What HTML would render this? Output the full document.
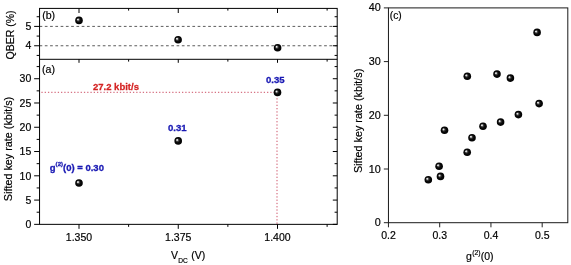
<!DOCTYPE html><html><head><meta charset="utf-8"><style>html,body{margin:0;padding:0;background:#fff;width:571px;height:265px;overflow:hidden}svg{display:block}text{font-family:'Liberation Sans',Arial,sans-serif;stroke:#000;stroke-width:0.18px}</style></head><body>
<svg width="571" height="265" viewBox="0 0 571 265">
<defs><radialGradient id="ball" cx="0.5" cy="0.5" r="0.5" fx="0.33" fy="0.35"><stop offset="0" stop-color="#ffffff"/><stop offset="0.16" stop-color="#d0d0d0"/><stop offset="0.34" stop-color="#404040"/><stop offset="0.58" stop-color="#0a0a0a"/><stop offset="1" stop-color="#000"/></radialGradient></defs>
<rect width="571" height="265" fill="#fff"/>
<line x1="39.55" y1="26.40" x2="337.20" y2="26.40" stroke="#5c5c5c" stroke-width="1.00" stroke-dasharray="2.7 2.57"/>
<line x1="39.55" y1="45.75" x2="337.20" y2="45.75" stroke="#5c5c5c" stroke-width="1.00" stroke-dasharray="2.7 2.57"/>
<line x1="39.55" y1="92.31" x2="277.00" y2="92.31" stroke="#cc5066" stroke-width="1.00" stroke-dasharray="1.3 1.97" stroke-dashoffset="1.42"/>
<line x1="277.00" y1="92.31" x2="277.00" y2="224.35" stroke="#cc5066" stroke-width="1.00" stroke-dasharray="1.3 1.97" stroke-dashoffset="0.65"/>
<rect x="39.55" y="8.40" width="297.65" height="215.95" fill="none" stroke="#000" stroke-width="1.00"/>
<line x1="39.55" y1="59.30" x2="337.20" y2="59.30" stroke="#000" stroke-width="1.00" />
<line x1="79.00" y1="224.35" x2="79.00" y2="228.85" stroke="#000" stroke-width="1.00" />
<line x1="79.00" y1="59.30" x2="79.00" y2="62.80" stroke="#000" stroke-width="1.00" />
<line x1="79.00" y1="8.40" x2="79.00" y2="13.00" stroke="#000" stroke-width="1.00" />
<line x1="178.25" y1="224.35" x2="178.25" y2="228.85" stroke="#000" stroke-width="1.00" />
<line x1="178.25" y1="59.30" x2="178.25" y2="62.80" stroke="#000" stroke-width="1.00" />
<line x1="178.25" y1="8.40" x2="178.25" y2="13.00" stroke="#000" stroke-width="1.00" />
<line x1="277.50" y1="224.35" x2="277.50" y2="228.85" stroke="#000" stroke-width="1.00" />
<line x1="277.50" y1="59.30" x2="277.50" y2="62.80" stroke="#000" stroke-width="1.00" />
<line x1="277.50" y1="8.40" x2="277.50" y2="13.00" stroke="#000" stroke-width="1.00" />
<line x1="128.62" y1="224.35" x2="128.62" y2="226.85" stroke="#000" stroke-width="1.00" />
<line x1="128.62" y1="59.30" x2="128.62" y2="61.60" stroke="#000" stroke-width="1.00" />
<line x1="128.62" y1="8.40" x2="128.62" y2="10.60" stroke="#000" stroke-width="1.00" />
<line x1="227.87" y1="224.35" x2="227.87" y2="226.85" stroke="#000" stroke-width="1.00" />
<line x1="227.87" y1="59.30" x2="227.87" y2="61.60" stroke="#000" stroke-width="1.00" />
<line x1="227.87" y1="8.40" x2="227.87" y2="10.60" stroke="#000" stroke-width="1.00" />
<line x1="327.12" y1="224.35" x2="327.12" y2="226.85" stroke="#000" stroke-width="1.00" />
<line x1="327.12" y1="59.30" x2="327.12" y2="61.60" stroke="#000" stroke-width="1.00" />
<line x1="327.12" y1="8.40" x2="327.12" y2="10.60" stroke="#000" stroke-width="1.00" />
<line x1="34.15" y1="224.35" x2="39.55" y2="224.35" stroke="#000" stroke-width="1.00" />
<line x1="332.80" y1="224.35" x2="337.20" y2="224.35" stroke="#000" stroke-width="1.00" />
<line x1="34.15" y1="200.08" x2="39.55" y2="200.08" stroke="#000" stroke-width="1.00" />
<line x1="332.80" y1="200.08" x2="337.20" y2="200.08" stroke="#000" stroke-width="1.00" />
<line x1="34.15" y1="175.81" x2="39.55" y2="175.81" stroke="#000" stroke-width="1.00" />
<line x1="332.80" y1="175.81" x2="337.20" y2="175.81" stroke="#000" stroke-width="1.00" />
<line x1="34.15" y1="151.53" x2="39.55" y2="151.53" stroke="#000" stroke-width="1.00" />
<line x1="332.80" y1="151.53" x2="337.20" y2="151.53" stroke="#000" stroke-width="1.00" />
<line x1="34.15" y1="127.26" x2="39.55" y2="127.26" stroke="#000" stroke-width="1.00" />
<line x1="332.80" y1="127.26" x2="337.20" y2="127.26" stroke="#000" stroke-width="1.00" />
<line x1="34.15" y1="102.99" x2="39.55" y2="102.99" stroke="#000" stroke-width="1.00" />
<line x1="332.80" y1="102.99" x2="337.20" y2="102.99" stroke="#000" stroke-width="1.00" />
<line x1="34.15" y1="78.72" x2="39.55" y2="78.72" stroke="#000" stroke-width="1.00" />
<line x1="332.80" y1="78.72" x2="337.20" y2="78.72" stroke="#000" stroke-width="1.00" />
<line x1="36.65" y1="212.21" x2="39.55" y2="212.21" stroke="#000" stroke-width="1.00" />
<line x1="334.60" y1="212.21" x2="337.20" y2="212.21" stroke="#000" stroke-width="1.00" />
<line x1="36.65" y1="187.94" x2="39.55" y2="187.94" stroke="#000" stroke-width="1.00" />
<line x1="334.60" y1="187.94" x2="337.20" y2="187.94" stroke="#000" stroke-width="1.00" />
<line x1="36.65" y1="163.67" x2="39.55" y2="163.67" stroke="#000" stroke-width="1.00" />
<line x1="334.60" y1="163.67" x2="337.20" y2="163.67" stroke="#000" stroke-width="1.00" />
<line x1="36.65" y1="139.40" x2="39.55" y2="139.40" stroke="#000" stroke-width="1.00" />
<line x1="334.60" y1="139.40" x2="337.20" y2="139.40" stroke="#000" stroke-width="1.00" />
<line x1="36.65" y1="115.13" x2="39.55" y2="115.13" stroke="#000" stroke-width="1.00" />
<line x1="334.60" y1="115.13" x2="337.20" y2="115.13" stroke="#000" stroke-width="1.00" />
<line x1="36.65" y1="90.85" x2="39.55" y2="90.85" stroke="#000" stroke-width="1.00" />
<line x1="334.60" y1="90.85" x2="337.20" y2="90.85" stroke="#000" stroke-width="1.00" />
<line x1="36.65" y1="66.58" x2="39.55" y2="66.58" stroke="#000" stroke-width="1.00" />
<line x1="334.60" y1="66.58" x2="337.20" y2="66.58" stroke="#000" stroke-width="1.00" />
<line x1="34.15" y1="26.40" x2="39.55" y2="26.40" stroke="#000" stroke-width="1.00" />
<line x1="332.80" y1="26.40" x2="337.20" y2="26.40" stroke="#000" stroke-width="1.00" />
<line x1="34.15" y1="45.75" x2="39.55" y2="45.75" stroke="#000" stroke-width="1.00" />
<line x1="332.80" y1="45.75" x2="337.20" y2="45.75" stroke="#000" stroke-width="1.00" />
<line x1="36.65" y1="16.72" x2="39.55" y2="16.72" stroke="#000" stroke-width="1.00" />
<line x1="334.60" y1="16.72" x2="337.20" y2="16.72" stroke="#000" stroke-width="1.00" />
<line x1="36.65" y1="36.08" x2="39.55" y2="36.08" stroke="#000" stroke-width="1.00" />
<line x1="334.60" y1="36.08" x2="337.20" y2="36.08" stroke="#000" stroke-width="1.00" />
<line x1="36.65" y1="55.42" x2="39.55" y2="55.42" stroke="#000" stroke-width="1.00" />
<line x1="334.60" y1="55.42" x2="337.20" y2="55.42" stroke="#000" stroke-width="1.00" />
<text x="31.30" y="30.10" font-size="10.50" text-anchor="end" >5</text>
<text x="31.30" y="49.45" font-size="10.50" text-anchor="end" >4</text>
<text x="31.30" y="228.05" font-size="10.50" text-anchor="end" >0</text>
<text x="31.30" y="203.78" font-size="10.50" text-anchor="end" >5</text>
<text x="31.30" y="179.51" font-size="10.50" text-anchor="end" >10</text>
<text x="31.30" y="155.23" font-size="10.50" text-anchor="end" >15</text>
<text x="31.30" y="130.96" font-size="10.50" text-anchor="end" >20</text>
<text x="31.30" y="106.69" font-size="10.50" text-anchor="end" >25</text>
<text x="31.30" y="82.42" font-size="10.50" text-anchor="end" >30</text>
<text x="79.00" y="241.00" font-size="10.50" text-anchor="middle" >1.350</text>
<text x="178.25" y="241.00" font-size="10.50" text-anchor="middle" >1.375</text>
<text x="277.50" y="241.00" font-size="10.50" text-anchor="middle" >1.400</text>
<text x="171.0" y="258.9" font-size="10.50">V<tspan font-size="6.6" dx="0.3" dy="4.5">DC</tspan><tspan dx="0.5" dy="-4.5"> (V)</tspan></text>
<text transform="translate(13.5,34.9) rotate(-90)" font-size="10.50" text-anchor="middle">QBER (%)</text>
<text transform="translate(12.4,149.0) rotate(-90)" font-size="10.8" text-anchor="middle">Sifted key rate (kbit/s)</text>
<text x="42.20" y="19.20" font-size="10.60" text-anchor="start" >(b)</text>
<text x="42.00" y="73.00" font-size="10.60" text-anchor="start" >(a)</text>
<text transform="translate(49.8,171.2) scale(1,0.98)" font-size="9.5" font-weight="bold" style="stroke:#1a1ab4;stroke-width:0.3px" fill="#1a1ab4">g<tspan font-size="6.1" dy="-5.5">(2)</tspan><tspan dy="5.5">(0) = 0.30</tspan></text>
<text transform="translate(177.3,130.7) scale(1,0.97)" font-size="9.6" text-anchor="middle" font-weight="bold" style="stroke:#1a1ab4;stroke-width:0.3px" fill="#1a1ab4">0.31</text>
<text transform="translate(275.3,82.6) scale(1,0.97)" font-size="9.6" text-anchor="middle" font-weight="bold" style="stroke:#1a1ab4;stroke-width:0.3px" fill="#1a1ab4">0.35</text>
<text transform="translate(93.0,90.1) scale(1,1.05)" font-size="9.5" font-weight="bold" style="stroke:#d42222;stroke-width:0.25px" fill="#d42222">27.2 kbit/s</text>
<circle cx="79.00" cy="20.40" r="3.80" fill="url(#ball)"/>
<circle cx="178.10" cy="39.70" r="3.80" fill="url(#ball)"/>
<circle cx="277.60" cy="47.70" r="3.80" fill="url(#ball)"/>
<circle cx="79.00" cy="183.00" r="3.80" fill="url(#ball)"/>
<circle cx="178.20" cy="140.90" r="3.80" fill="url(#ball)"/>
<circle cx="277.50" cy="92.40" r="3.80" fill="url(#ball)"/>
<rect x="388.45" y="7.90" width="179.35" height="214.80" fill="none" stroke="#1a1a1a" stroke-width="1.00"/>
<line x1="383.85" y1="222.70" x2="388.45" y2="222.70" stroke="#222" stroke-width="1.00" />
<text x="380.70" y="226.20" font-size="10.80" text-anchor="end" >0</text>
<line x1="383.85" y1="169.00" x2="388.45" y2="169.00" stroke="#222" stroke-width="1.00" />
<text x="380.70" y="172.50" font-size="10.80" text-anchor="end" >10</text>
<line x1="383.85" y1="115.30" x2="388.45" y2="115.30" stroke="#222" stroke-width="1.00" />
<text x="380.70" y="118.80" font-size="10.80" text-anchor="end" >20</text>
<line x1="383.85" y1="61.60" x2="388.45" y2="61.60" stroke="#222" stroke-width="1.00" />
<text x="380.70" y="65.10" font-size="10.80" text-anchor="end" >30</text>
<line x1="383.85" y1="7.90" x2="388.45" y2="7.90" stroke="#222" stroke-width="1.00" />
<text x="380.70" y="11.40" font-size="10.80" text-anchor="end" >40</text>
<line x1="388.45" y1="222.70" x2="388.45" y2="227.30" stroke="#222" stroke-width="1.00" />
<text x="388.45" y="238.80" font-size="10.50" text-anchor="middle" >0.2</text>
<line x1="439.69" y1="222.70" x2="439.69" y2="227.30" stroke="#222" stroke-width="1.00" />
<text x="439.69" y="238.80" font-size="10.50" text-anchor="middle" >0.3</text>
<line x1="490.94" y1="222.70" x2="490.94" y2="227.30" stroke="#222" stroke-width="1.00" />
<text x="490.94" y="238.80" font-size="10.50" text-anchor="middle" >0.4</text>
<line x1="542.18" y1="222.70" x2="542.18" y2="227.30" stroke="#222" stroke-width="1.00" />
<text x="542.18" y="238.80" font-size="10.50" text-anchor="middle" >0.5</text>
<text x="389.80" y="19.40" font-size="10.20" text-anchor="start" >(c)</text>
<text x="465.9" y="260.0" font-size="10.5">g<tspan font-size="6.8" dx="0.5" dy="-5.5">(2)</tspan><tspan dx="0.2" dy="5.5">(0)</tspan></text>
<text transform="translate(361.6,120.9) rotate(-90)" font-size="10.8" text-anchor="middle">Sifted key rate (kbit/s)</text>
<circle cx="467.30" cy="76.30" r="3.80" fill="url(#ball)"/>
<circle cx="497.00" cy="74.10" r="3.80" fill="url(#ball)"/>
<circle cx="510.40" cy="78.10" r="3.80" fill="url(#ball)"/>
<circle cx="539.10" cy="103.60" r="3.80" fill="url(#ball)"/>
<circle cx="518.40" cy="114.60" r="3.80" fill="url(#ball)"/>
<circle cx="500.60" cy="122.10" r="3.80" fill="url(#ball)"/>
<circle cx="483.00" cy="126.20" r="3.80" fill="url(#ball)"/>
<circle cx="444.50" cy="130.30" r="3.80" fill="url(#ball)"/>
<circle cx="472.00" cy="137.70" r="3.80" fill="url(#ball)"/>
<circle cx="467.20" cy="152.20" r="3.80" fill="url(#ball)"/>
<circle cx="439.10" cy="166.20" r="3.80" fill="url(#ball)"/>
<circle cx="440.50" cy="176.40" r="3.80" fill="url(#ball)"/>
<circle cx="428.30" cy="179.70" r="3.80" fill="url(#ball)"/>
<circle cx="537.10" cy="32.40" r="3.80" fill="url(#ball)"/>
</svg></body></html>
